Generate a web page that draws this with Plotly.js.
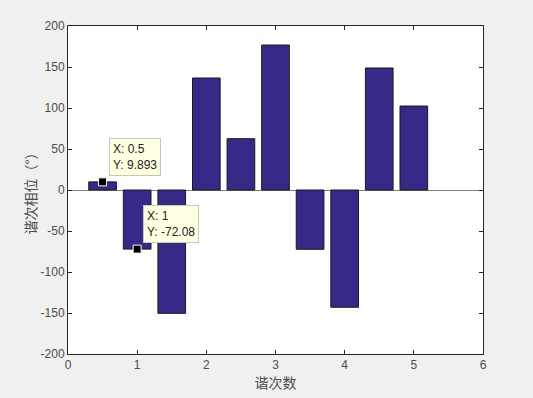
<!DOCTYPE html>
<html><head><meta charset="utf-8">
<script src="https://cdn.plot.ly/plotly-3.0.1.min.js"></script>
<style>body{margin:0;background:#f0f0f0}#c{width:533px;height:398px}</style>
</head><body><div id="c"></div>
<script>
const harmonics = [0.5, 1, 1.5, 2, 2.5, 3, 3.5, 4, 4.5, 5];
const phases = [9.893, -72.08, -150.4, 136.6, 62.6, 176.8, -72.3, -143.0, 148.8, 102.4];
const tipX = [0.5, 1];
const tipY = [9.893, -72.08];
const tipLabels = ["X: 0.5<br>Y: 9.893", "X: 1<br>Y: -72.08"];
const xTicks = [0, 1, 2, 3, 4, 5, 6];
const yTicks = [-200, -150, -100, -50, 0, 50, 100, 150, 200];
const yTickText = ["-200", "-150", "-100", "-50", "0", "50", "100", "150", "200"];

const font = "Noto Sans CJK SC, Liberation Sans, sans-serif";
const traces = [
  {type: 'bar', x: harmonics, y: phases, width: 0.4,
   marker: {color: '#352a87', line: {color: '#1a1a1a', width: 1}}, hoverinfo: 'none'},
  {type: 'scatter', mode: 'markers', x: tipX, y: tipY,
   marker: {symbol: 'square', size: 8, color: '#000', line: {color: '#ffffe0', width: 1}}, hoverinfo: 'none'}
];
const annotations = tipX.map((x, i) => ({
  x: x, y: tipY[i], xref: 'x', yref: 'y', text: tipLabels[i], showarrow: false,
  xanchor: 'left', yanchor: 'bottom', xshift: 6, yshift: 6, align: 'left',
  bgcolor: '#ffffe1', bordercolor: '#c8c8b4', borderwidth: 1, borderpad: 3,
  font: {family: 'Liberation Sans, Arial, sans-serif', size: 12, color: '#222'}
}));
const layout = {
  width: 533, height: 398, showlegend: false,
  paper_bgcolor: '#f0f0f0', plot_bgcolor: '#ffffff',
  margin: {l: 68, r: 50, t: 26, b: 44},
  font: {family: 'Liberation Sans, Arial, sans-serif', size: 12, color: '#4d4d4d'},
  xaxis: {range: [0, 6], tickvals: xTicks, ticks: 'inside', ticklen: 4, tickcolor: '#262626',
          showline: true, linecolor: '#262626', linewidth: 1, mirror: 'ticks', showgrid: false, zeroline: false,
          title: {text: '谐次数', font: {family: font, size: 14, color: '#4d4d4d'}, standoff: 4}},
  yaxis: {range: [-200, 200], tickvals: yTicks, ticktext: yTickText, ticks: 'inside', ticklen: 4, tickcolor: '#262626',
          showline: true, linecolor: '#262626', linewidth: 1, mirror: 'ticks', showgrid: false,
          zeroline: true, zerolinecolor: '#808080', zerolinewidth: 1,
          title: {text: '谐次相位（°）', font: {family: font, size: 14, color: '#4d4d4d'}, standoff: 0}},
  annotations: annotations
};
Plotly.newPlot('c', traces, layout, {staticPlot: true});
</script></body></html>
